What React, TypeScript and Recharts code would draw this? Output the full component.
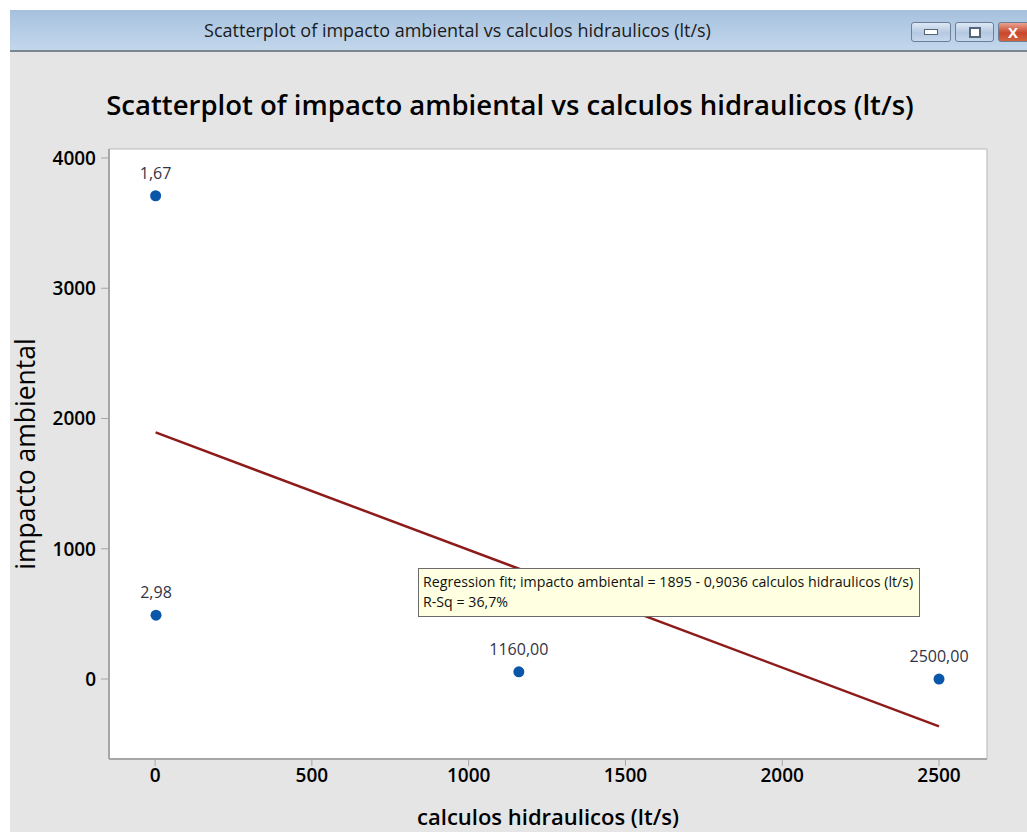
import { ScatterChart, Scatter, XAxis, YAxis, ReferenceArea, Label } from 'recharts';

const xValues = [1.67, 2.98, 1160, 2500];
const yValues = [3710, 490, 55, 0];
const pointLabels = ['1,67', '2,98', '1160,00', '2500,00'];

// regression fit endpoints (impacto = 1895 - 0,9036 * calculos)
const fitX = [1.67, 2500];
const fitY = [1893, -364];

const xTicks = [0, 500, 1000, 1500, 2000, 2500];
const yTicks = [0, 1000, 2000, 3000, 4000];
const X_DOMAIN: [number, number] = [-147, 2653];
const Y_DOMAIN: [number, number] = [-614, 4069];

const points = xValues.map((x, i) => ({ x, y: yValues[i], label: pointLabels[i] }));
const fitLine = fitX.map((x, i) => ({ x, y: fitY[i] }));

const FONT = '"Open Sans", "Noto Sans", sans-serif';
const TITLE = 'Scatterplot of impacto ambiental vs calculos hidraulicos (lt/s)';

function PointWithLabel(props: any) {
  const { cx, cy, payload } = props;
  if (cx == null || cy == null) return null;
  return (
    <g>
      <circle cx={cx} cy={cy} r={5.5} fill="#0a56a8" />
      <text
        x={cx}
        y={cy - 23}
        textAnchor="middle"
        dominantBaseline="central"
        fontFamily={FONT}
        fontSize={16}
        fill="#333344"
      >
        {payload.label}
      </text>
    </g>
  );
}

function YTitle(props: any) {
  const vb = props.viewBox;
  const cx = vb.x + 25;
  const cy = vb.y + vb.height / 2;
  return (
    <text
      x={cx}
      y={cy}
      transform={`rotate(-90, ${cx}, ${cy})`}
      textAnchor="middle"
      dominantBaseline="central"
      fontFamily={FONT}
      fontSize={26.5}
      fill="#000"
    >
      impacto ambiental
    </text>
  );
}

function XTitle(props: any) {
  const vb = props.viewBox;
  const cx = vb.x + vb.width / 2;
  const cy = vb.y + 57;
  return (
    <text
      x={cx}
      y={cy}
      textAnchor="middle"
      dominantBaseline="central"
      fontFamily={FONT}
      fontSize={22}
      fontWeight={600}
      fill="#000"
    >
      calculos hidraulicos (lt/s)
    </text>
  );
}

function WinButton({ left, width, red, children }: any) {
  return (
    <div
      style={{
        position: 'absolute',
        top: 22,
        left,
        width,
        height: 20,
        borderRadius: 3,
        border: '1px solid #6d7f97',
        boxSizing: 'border-box',
        background: red
          ? 'linear-gradient(#e8a28f, #c9462c 55%, #d2643f)'
          : 'linear-gradient(#dfe9f5, #b4c8e0 55%, #c7d8ec)',
        display: 'flex',
        alignItems: 'center',
        justifyContent: 'center',
      }}
    >
      {children}
    </div>
  );
}

export default function App() {
  return (
    <div style={{ position: 'relative', width: 1027, height: 832, overflow: 'hidden', background: '#fff' }}>
      <style>{'body{margin:0}'}</style>

      {/* window title bar */}
      <div
        style={{
          position: 'absolute',
          top: 10,
          left: 10,
          width: 1017,
          height: 40,
          background: 'linear-gradient(#a6c1de, #c3d7ec)',
          borderBottom: '2px solid #7d8591',
        }}
      >
        <div
          style={{
            position: 'absolute',
            left: 0,
            width: 895,
            top: 0,
            height: 40,
            lineHeight: '40px',
            textAlign: 'center',
            fontFamily: FONT,
            fontSize: 18,
            color: '#1b1b1b',
          }}
        >
          {TITLE}
        </div>
      </div>
      <WinButton left={911} width={40}>
        <div style={{ width: 12, height: 4, background: '#fff', border: '1px solid #55657a' }} />
      </WinButton>
      <WinButton left={955} width={39}>
        <div style={{ width: 8, height: 7, border: '2px solid #55657a', background: '#fff' }} />
      </WinButton>
      <WinButton left={998} width={40} red>
        <span style={{ fontFamily: FONT, fontWeight: 700, fontSize: 15, color: '#fff', marginRight: 10 }}>X</span>
      </WinButton>

      {/* gray panel */}
      <div style={{ position: 'absolute', top: 52, left: 10, width: 1017, height: 780, background: '#e5e5e5' }} />

      <div
        style={{
          position: 'absolute',
          top: 86,
          left: 10,
          width: 1000,
          textAlign: 'center',
          fontFamily: FONT,
          fontSize: 27.5,
          fontWeight: 600,
          color: '#000',
        }}
      >
        {TITLE}
      </div>

      <div style={{ position: 'absolute', top: 0, left: 0 }}>
        <ScatterChart width={1027} height={832} margin={{ top: 149, right: 40, bottom: 0, left: 0 }}>
          <XAxis
            type="number"
            dataKey="x"
            domain={X_DOMAIN}
            ticks={xTicks}
            allowDataOverflow
            height={73}
            axisLine={{ stroke: '#a6a6a6', strokeWidth: 2 }}
            tickLine={{ stroke: '#a6a6a6' }}
            tickSize={7}
            tickMargin={3}
            tick={{ fontSize: 19, fontWeight: 600, fill: '#000', fontFamily: FONT }}
          >
            <Label content={XTitle} />
          </XAxis>
          <YAxis
            type="number"
            dataKey="y"
            domain={Y_DOMAIN}
            ticks={yTicks}
            allowDataOverflow
            width={109}
            axisLine={{ stroke: '#a6a6a6', strokeWidth: 2 }}
            tickLine={{ stroke: '#a6a6a6' }}
            tickSize={8}
            tickMargin={5}
            tick={{ fontSize: 19, fontWeight: 600, fill: '#000', fontFamily: FONT }}
          >
            <Label content={YTitle} />
          </YAxis>
          <ReferenceArea
            x1={X_DOMAIN[0]}
            x2={X_DOMAIN[1]}
            y1={Y_DOMAIN[0]}
            y2={Y_DOMAIN[1]}
            fill="#ffffff"
            fillOpacity={1}
            stroke="#b8b8b8"
            strokeWidth={1}
          />
          <Scatter
            data={fitLine}
            line={{ stroke: '#8e1b1b', strokeWidth: 2.5 }}
            shape={() => null}
            isAnimationActive={false}
          />
          <Scatter data={points} shape={PointWithLabel} isAnimationActive={false} />
        </ScatterChart>
      </div>

      {/* regression annotation */}
      <div
        style={{
          position: 'absolute',
          left: 418,
          top: 568,
          width: 502,
          height: 49,
          boxSizing: 'border-box',
          background: '#ffffe1',
          border: '1px solid #6b6b6b',
          padding: '3px 0 0 4px',
          fontFamily: FONT,
          fontSize: 14.2,
          lineHeight: '20px',
          color: '#111',
          whiteSpace: 'nowrap',
        }}
      >
        <div>Regression fit; impacto ambiental = 1895 - 0,9036 calculos hidraulicos (lt/s)</div>
        <div>R-Sq = 36,7%</div>
      </div>
    </div>
  );
}
